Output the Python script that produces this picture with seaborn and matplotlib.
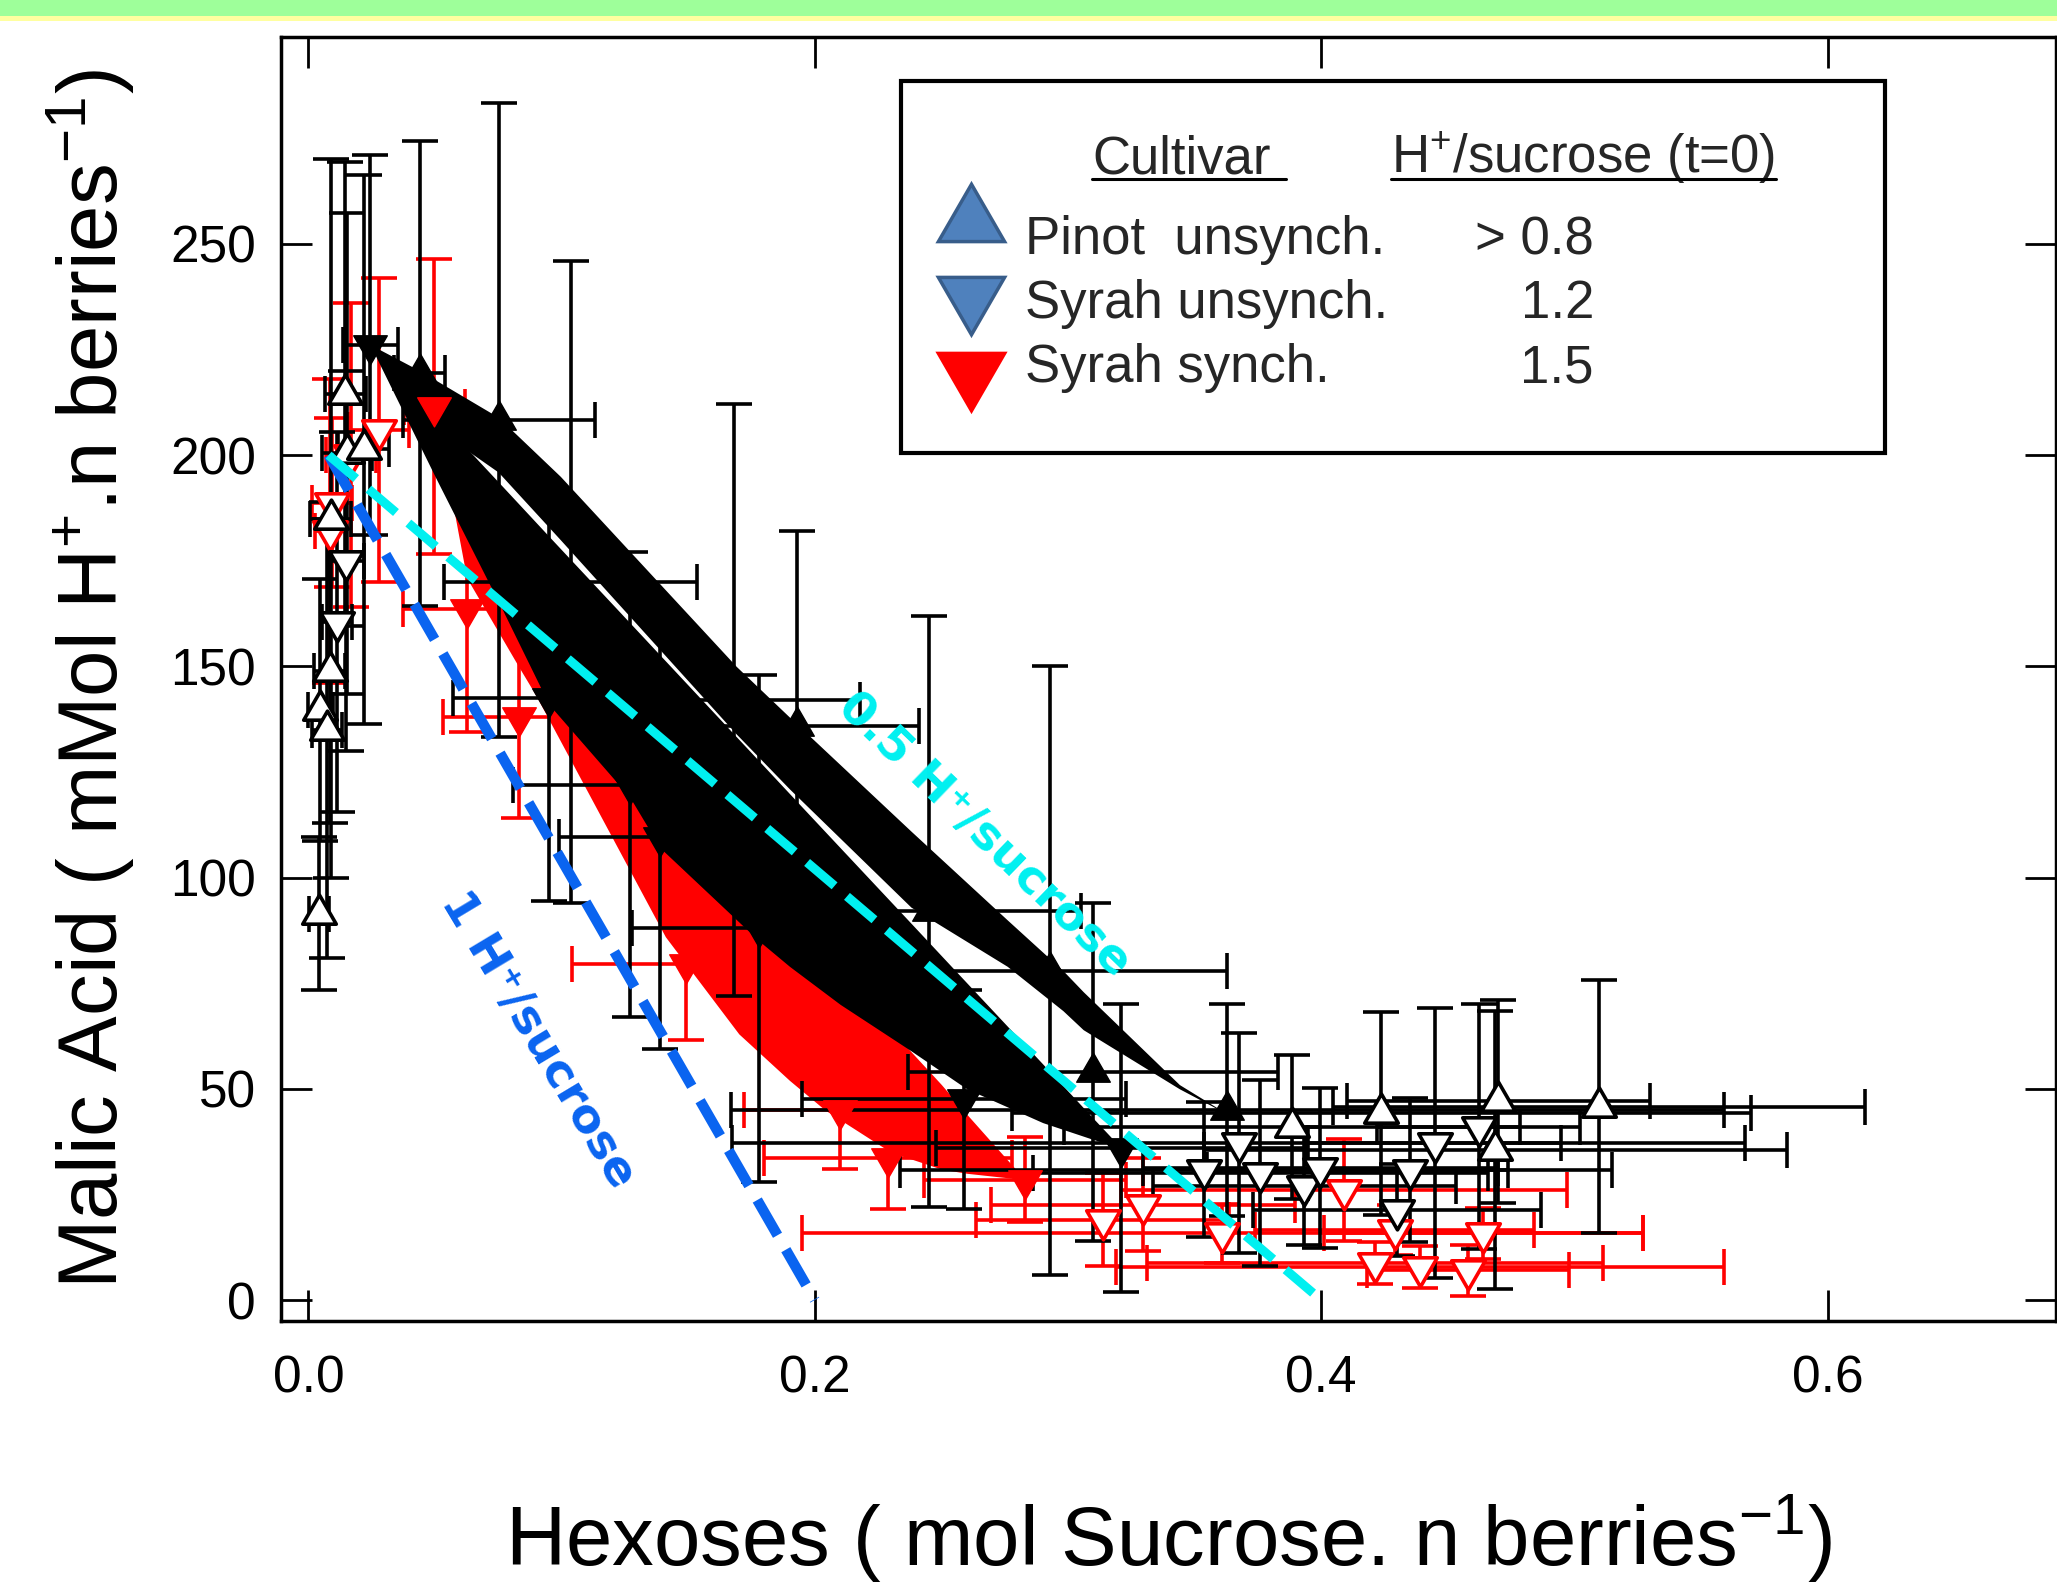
import numpy as np
import pandas as pd
import matplotlib
matplotlib.use("Agg")
import matplotlib.pyplot as plt
import seaborn as sns
from matplotlib.patches import Rectangle
from matplotlib.lines import Line2D

# ---------------- data ----------------
# Pinot unsynch. : individual berries (open up-triangles)
pin_x = [0.0041, 0.0047, 0.0074, 0.0084, 0.0088, 0.0146, 0.0153, 0.0218, 0.3885, 0.4238, 0.4688, 0.4700, 0.5096]
pin_y = [91.5, 139.7, 135.0, 149.0, 185.0, 214.5, 200.4, 201.4, 41.0, 44.2, 35.5, 47.0, 45.8]
pin_xe = [0.004, 0.005, 0.006, 0.006, 0.008, 0.008, 0.010, 0.010, 0.090, 0.146, 0.115, 0.060, 0.105]
pin_ye = [18, 31, 54, 36, 85, 55, 57, 65, 17, 24, 33, 24, 30]

# Syrah unsynch. : individual berries (open down-triangles)
syu_x = [0.0113, 0.0150, 0.3536, 0.3674, 0.3760, 0.3934, 0.3997, 0.4300, 0.4350, 0.4449, 0.4622]
syu_y = [160.5, 175.0, 30.8, 37.1, 30.0, 27.0, 31.2, 21.3, 30.8, 37.1, 41.0]
syu_xe = [0.006, 0.007, 0.120, 0.200, 0.090, 0.060, 0.070, 0.057, 0.080, 0.050, 0.040]
syu_ye = [45, 45, 16, 26, 22, 14, 19, 11, 17, 32, 29]

# Syrah synch. : individual berries (open red down-triangles)
sys_x = [0.0087, 0.0094, 0.0168, 0.0278, 0.3137, 0.3296, 0.3610, 0.4090, 0.4214, 0.4290, 0.4390, 0.4580, 0.4640]
sys_y = [182.0, 188.7, 200.0, 206.0, 19.0, 22.5, 15.8, 26.0, 8.7, 16.6, 7.9, 7.0, 15.8]
sys_xe = [0.006, 0.008, 0.010, 0.012, 0.050, 0.060, 0.166, 0.088, 0.090, 0.055, 0.120, 0.040, 0.063]
sys_ye = [36, 20, 36, 36, 11, 11, 7, 12, 5, 6, 5, 6, 6]

# Means (filled markers)
pm_x = [0.0440, 0.0752, 0.1036, 0.1680, 0.1930, 0.2450, 0.2930, 0.3100, 0.3630]
pm_y = [219.4, 208.3, 170.0, 142.0, 136.0, 92.0, 78.0, 54.0, 45.0]
pm_xe = [0.010, 0.038, 0.050, 0.050, 0.048, 0.060, 0.070, 0.073, 0.196]
pm_ye = [55, 75, 76, 70, 46, 70, 72, 40, 25]

sm_x = [0.0245, 0.0950, 0.1270, 0.1390, 0.1780, 0.2590, 0.3210]
sm_y = [226.0, 142.5, 122.0, 109.5, 88.0, 47.5, 36.0]
sm_xe = [0.011, 0.038, 0.046, 0.040, 0.050, 0.064, 0.073]
sm_ye = [45, 48, 55, 50, 60, 26, 34]

rm_x = [0.0498, 0.0625, 0.0830, 0.1490, 0.2100, 0.2290, 0.2830]
rm_y = [211.5, 163.5, 138.0, 79.5, 45.0, 33.5, 28.5]
rm_xe = [0.012, 0.025, 0.030, 0.045, 0.038, 0.049, 0.040]
rm_ye = [35, 29, 24, 18, 14, 12, 10]

# Shaded trajectories (bands)
pband_x = [0.025, 0.044, 0.075, 0.0995, 0.169, 0.190, 0.238, 0.276, 0.298, 0.306, 0.344, 0.363]
pband_hi = [226, 220, 209, 195, 150, 138, 111, 90, 78, 73, 51, 44]
pband_lo = [226, 209, 196, 180, 134, 121, 93, 79, 68.5, 64, 50, 44]

sband_x = [0.0245, 0.050, 0.077, 0.095, 0.127, 0.139, 0.178, 0.190, 0.210, 0.238, 0.260, 0.290, 0.310, 0.321]
sband_hi = [226, 209.7, 192.4, 180.8, 160.3, 152.6, 127.6, 119.9, 107.1, 89.2, 75.1, 55.9, 43.0, 36.0]
sband_lo = [226, 195, 163, 141, 119, 107, 85, 79, 70, 59, 50, 42, 38, 36]

rband_x = [0.0498, 0.0625, 0.083, 0.090, 0.141, 0.170, 0.190, 0.204, 0.230, 0.250, 0.260, 0.283]
rband_hi = [211.5, 201, 185, 180, 138, 113, 97, 85, 64, 51, 44, 28.5]
rband_lo = [211.5, 171, 150, 143, 86, 63, 52, 45, 35, 31, 30, 28.5]

# Reference lines
ref1_x = [0.008, 0.200]   # 1 H+/sucrose
ref1_y = [200.0, 0.0]
ref05_x = [0.008, 0.400]  # 0.5 H+/sucrose
ref05_y = [200.0, 0.0]

x_ticks = [0.0, 0.2, 0.4, 0.6]
x_tick_labels = ["0.0", "0.2", "0.4", "0.6"]
y_ticks = [0, 50, 100, 150, 200, 250]

legend_names = ["Pinot  unsynch.", "Syrah unsynch.", "Syrah synch."]
legend_ratio = ["> 0.8", "1.2", "1.5"]

# ---------------- style ----------------
sns.set_theme(style="white")
plt.rcParams["font.family"] = ["Liberation Sans", "DejaVu Sans"]
plt.rcParams["mathtext.fontset"] = "custom"
plt.rcParams["mathtext.rm"] = "Liberation Sans"
plt.rcParams["mathtext.it"] = "Liberation Sans:italic"
plt.rcParams["mathtext.bf"] = "Liberation Sans:bold"

W, H = 2057, 1582
fig = plt.figure(figsize=(W / 100, H / 100), dpi=100)
fig.patch.set_facecolor("white")
# top banner
fig.patches.append(Rectangle((0, 1 - 16 / H), 1, 16 / H, transform=fig.transFigure,
                             facecolor="#9EFF9A", edgecolor="none"))
fig.patches.append(Rectangle((0, 1 - 21 / H), 1, 5 / H, transform=fig.transFigure,
                             facecolor="#FFFFA0", edgecolor="none"))

L, R, T, B = 281, 2056, 37, 1321
ax = fig.add_axes([L / W, 1 - B / H, (R - L) / W, (B - T) / H])
ax.set_xlim(-0.0108, 0.6902)
ax.set_ylim(-4.97, 299.0)

def df_of(x, y, xe, ye):
    return pd.DataFrame({"x": x, "y": y, "xe": xe, "ye": ye})

d_pin = df_of(pin_x, pin_y, pin_xe, pin_ye)
d_syu = df_of(syu_x, syu_y, syu_xe, syu_ye)
d_sys = df_of(sys_x, sys_y, sys_xe, sys_ye)
d_pm = df_of(pm_x, pm_y, pm_xe, pm_ye)
d_sm = df_of(sm_x, sm_y, sm_xe, sm_ye)
d_rm = df_of(rm_x, rm_y, rm_xe, rm_ye)

eb = dict(fmt="none", elinewidth=2.6, capsize=13, capthick=2.6)
# red error bars + red band
for d in (d_sys, d_rm):
    ax.errorbar(d.x, d.y, xerr=d.xe, yerr=d.ye, ecolor="#FF0000", zorder=2, **eb)
ax.fill_between(rband_x, rband_lo, rband_hi, color="#FF0000", lw=0, zorder=3)
# black error bars
for d in (d_pin, d_syu, d_pm, d_sm):
    ax.errorbar(d.x, d.y, xerr=d.xe, yerr=d.ye, ecolor="black", zorder=4, **eb)
ax.fill_between(sband_x, sband_lo, sband_hi, color="black", lw=0, zorder=5)
ax.fill_between(pband_x, pband_lo, pband_hi, color="black", lw=0, zorder=5)

UP, DOWN = (3, 0, 0), (3, 0, 180)
S = 780
sns.scatterplot(data=d_sys, x="x", y="y", marker=DOWN, s=S, color="white", edgecolor="#FF0000",
                linewidth=2.6, ax=ax, zorder=6, legend=False)
sns.scatterplot(data=d_rm, x="x", y="y", marker=DOWN, s=S, color="#FF0000", edgecolor="#FF0000",
                linewidth=1, ax=ax, zorder=6, legend=False)
sns.scatterplot(data=d_pin, x="x", y="y", marker=UP, s=S, color="white", edgecolor="black",
                linewidth=2.6, ax=ax, zorder=7, legend=False)
sns.scatterplot(data=d_syu, x="x", y="y", marker=DOWN, s=S, color="white", edgecolor="black",
                linewidth=2.6, ax=ax, zorder=7, legend=False)
sns.scatterplot(data=d_pm, x="x", y="y", marker=UP, s=S, color="black", edgecolor="black",
                linewidth=1, ax=ax, zorder=7, legend=False)
sns.scatterplot(data=d_sm, x="x", y="y", marker=DOWN, s=S, color="black", edgecolor="black",
                linewidth=1, ax=ax, zorder=7, legend=False)

# reference dashed lines
l1, = ax.plot(ref1_x, ref1_y, color="#0A64F0", lw=7.5, zorder=9, solid_capstyle="butt")
l1.set_dashes([3.9, 1.6])
l2, = ax.plot(ref05_x, ref05_y, color="#00F0F0", lw=6.5, zorder=9, solid_capstyle="butt")
l2.set_dashes([4.0, 1.8])

ax.text(0.0908, 61.5, "1 H\u207a/sucrose", color="#0A64F0", fontsize=34, rotation=-59,
        rotation_mode="anchor", ha="center", va="center", family=["DejaVu Sans"],
        fontweight="bold", zorder=10)
ax.text(0.267, 110.0, "0.5 H\u207a/sucrose", color="#00F0F0", fontsize=34, rotation=-44,
        rotation_mode="anchor", ha="center", va="center", family=["DejaVu Sans"],
        fontweight="bold", zorder=10)

# axes styling
for s in ax.spines.values():
    s.set_color("black")
    s.set_linewidth(2.5)
ax.set_xticks(x_ticks)
ax.set_xticklabels(x_tick_labels)
ax.set_yticks(y_ticks)
ax.tick_params(axis="both", direction="in", length=22, width=2, colors="black",
               labelsize=37, top=True, right=True, bottom=True, left=True)
ax.tick_params(axis="x", pad=24)
ax.tick_params(axis="y", pad=18)

ax.set_xlabel(r"Hexoses ( mol Sucrose. n berries$^{-1}$)", fontsize=60, color="black")
ax.set_ylabel(r"Malic Acid ( mMol H$^{+}$.n berries$^{-1}$)", fontsize=60, color="black")
ax.xaxis.label.set_va("baseline")
ax.yaxis.label.set_va("baseline")
ax.xaxis.set_label_coords(0.5, (B - 1566) / (B - T))
ax.yaxis.set_label_coords((118 - L) / (R - L), 0.5)

# ---------------- legend box ----------------
def axc(X, Y):
    return ((X - L) / (R - L), (B - Y) / (B - T))

x0, y0 = axc(901, 453)
x1, y1 = axc(1885, 81)
ax.add_patch(Rectangle((x0, y0), x1 - x0, y1 - y0, transform=ax.transAxes, facecolor="white",
                       edgecolor="black", lw=3, zorder=20, clip_on=False))
hx, hy = axc(1092, 173)
ax.text(hx, hy, "Cultivar", transform=ax.transAxes, fontsize=38, ha="left", va="baseline", zorder=21)
hx2, _ = axc(1391, 173)
ax.text(hx2, hy, "H$^{+}$/sucrose (t=0)", transform=ax.transAxes, fontsize=38, ha="left",
        va="baseline", zorder=21)
for (a, b) in [(1092, 1286), (1391, 1776)]:
    ua, uy = axc(a, 179)
    ub, _ = axc(b, 179)
    ax.add_line(Line2D([ua, ub], [uy, uy], transform=ax.transAxes, color="black", lw=2.2, zorder=21))

row_base = [254, 318, 382]
row_mark = [222, 296, 372]
mk = [dict(marker=UP, mfc="#4F81BD", mec="#385D8A"),
      dict(marker=DOWN, mfc="#4F81BD", mec="#385D8A"),
      dict(marker=DOWN, mfc="#FF0000", mec="#FF0000")]
for i in range(3):
    mx, my = axc(971, row_mark[i])
    ax.add_line(Line2D([mx], [my], transform=ax.transAxes, ms=55, mew=2.5, ls="none", zorder=21, **mk[i]))
    tx, ty = axc(1025, row_base[i])
    ax.text(tx, ty, legend_names[i], transform=ax.transAxes, fontsize=38, ha="left", va="baseline", zorder=21)
    rx, _ = axc(1594, row_base[i])
    ax.text(rx, ty, legend_ratio[i], transform=ax.transAxes, fontsize=38, ha="right", va="baseline", zorder=21)

fig.savefig("out.png", dpi=100)
